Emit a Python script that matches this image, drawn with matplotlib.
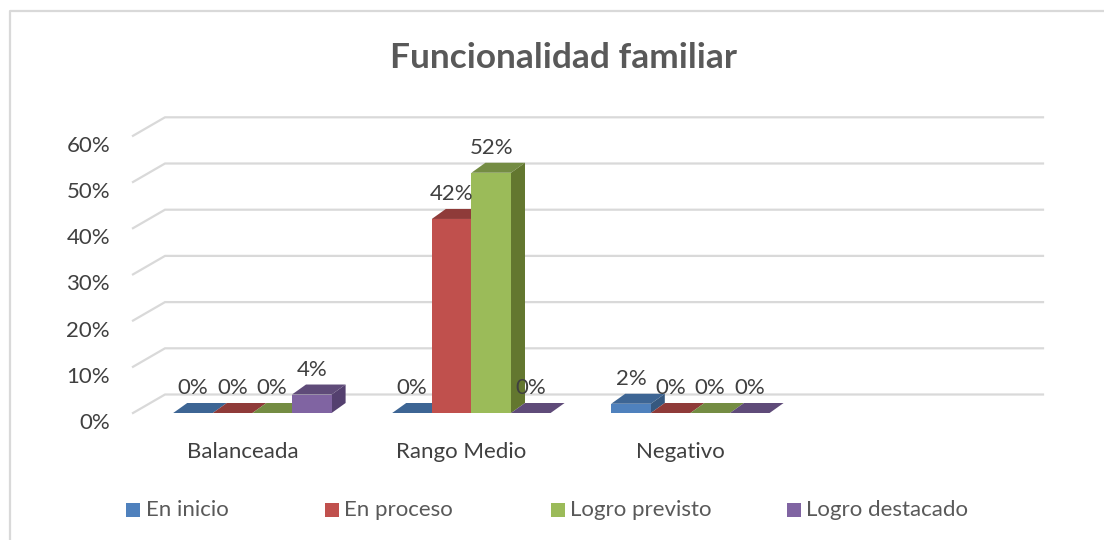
import matplotlib
matplotlib.use('Agg')
import matplotlib.pyplot as plt
from matplotlib.patches import Polygon, Rectangle

categories = ['Balanceada', 'Rango Medio', 'Negativo']
series = ['En inicio', 'En proceso', 'Logro previsto', 'Logro destacado']
en_inicio = [0, 0, 2]
en_proceso = [0, 42, 0]
logro_previsto = [0, 52, 0]
logro_destacado = [4, 0, 0]
ticks = [0, 10, 20, 30, 40, 50, 60]

values = [en_inicio, en_proceso, logro_previsto, logro_destacado]
front = ['#4F81BD', '#C0504D', '#9BBB59', '#8064A2']
top = ['#3D6594', '#8F3B39', '#748C43', '#5F4B79']
side = ['#35587F', '#7A3230', '#63772F', '#54406F']
legend_x = [126, 325, 551, 787]

plt.rcParams['font.family'] = 'Lato'
W, H = 1104, 540
fig = plt.figure(figsize=(W / 100, H / 100), dpi=100)
ax = fig.add_axes([0, 0, 1, 1])
ax.axis('off')

# x: one unit per category, y: percent
px_group = 219.0
px_pct = 4.62
x0 = 252.4
y0 = 413.0
ax.set_xlim(-x0 / px_group, (W - x0) / px_group)
ax.set_ylim(-(H - y0) / px_pct, y0 / px_pct)

bar_w = 39.6 / px_group
dx = 14 / px_group
dy = 10 / px_pct
wall_dx = 32 / px_group
wall_dy = 18.5 / px_pct
floor_left = (133 - x0) / px_group
wall_right = (1043 - x0) / px_group

grid = '#D9D9D9'
for t in ticks:
    ax.plot([floor_left, floor_left + wall_dx, wall_right], [t, t + wall_dy, t + wall_dy],
            color=grid, lw=1.6, solid_joinstyle='miter', zorder=1)
    ax.text((110 - x0) / px_group, t - 10 / px_pct, '%d%%' % t, ha='right', va='center',
            fontsize=16, color='#404040')

for i, cat in enumerate(categories):
    ax.text(i - 10 / px_group, -38.5 / px_pct, cat, ha='center', va='center', fontsize=16, color='#404040')
    for s in range(4):
        v = values[s][i]
        l = i + (s - 2) * bar_w
        r = l + bar_w
        ax.add_patch(Polygon([(l, v), (r, v), (r + dx, v + dy), (l + dx, v + dy)], color=top[s], lw=0, zorder=3))
        if v > 0:
            ax.add_patch(Polygon([(r, 0), (r + dx, dy), (r + dx, v + dy), (r, v)], color=side[s], lw=0, zorder=3))
            ax.add_patch(Rectangle((l, 0), bar_w, v, color=front[s], lw=0, zorder=3))
        ax.text(l + bar_w / 2, v + 25 / px_pct, '%d%%' % v, ha='center', va='center',
                fontsize=16, color='#404040', zorder=5)

# title, frame and legend
fig.text(563.5 / W, 1 - 57.5 / H, 'Funcionalidad familiar', ha='center', va='center',
         fontsize=25.4, fontweight='bold', color='#595959')
fig.add_artist(plt.Line2D([10 / W, 10 / W, 1], [0, 1 - 11 / H, 1 - 11 / H], color=grid, lw=1.6))
for name, color, x in zip(series, front, legend_x):
    fig.add_artist(Rectangle((x / W, 1 - 517 / H), 14 / W, 14 / H, color=color, lw=0, transform=fig.transFigure))
    fig.text((x + 19.5) / W, 1 - 510.5 / H, name, ha='left', va='center', fontsize=16, color='#595959')

fig.savefig('out.png', dpi=100)
